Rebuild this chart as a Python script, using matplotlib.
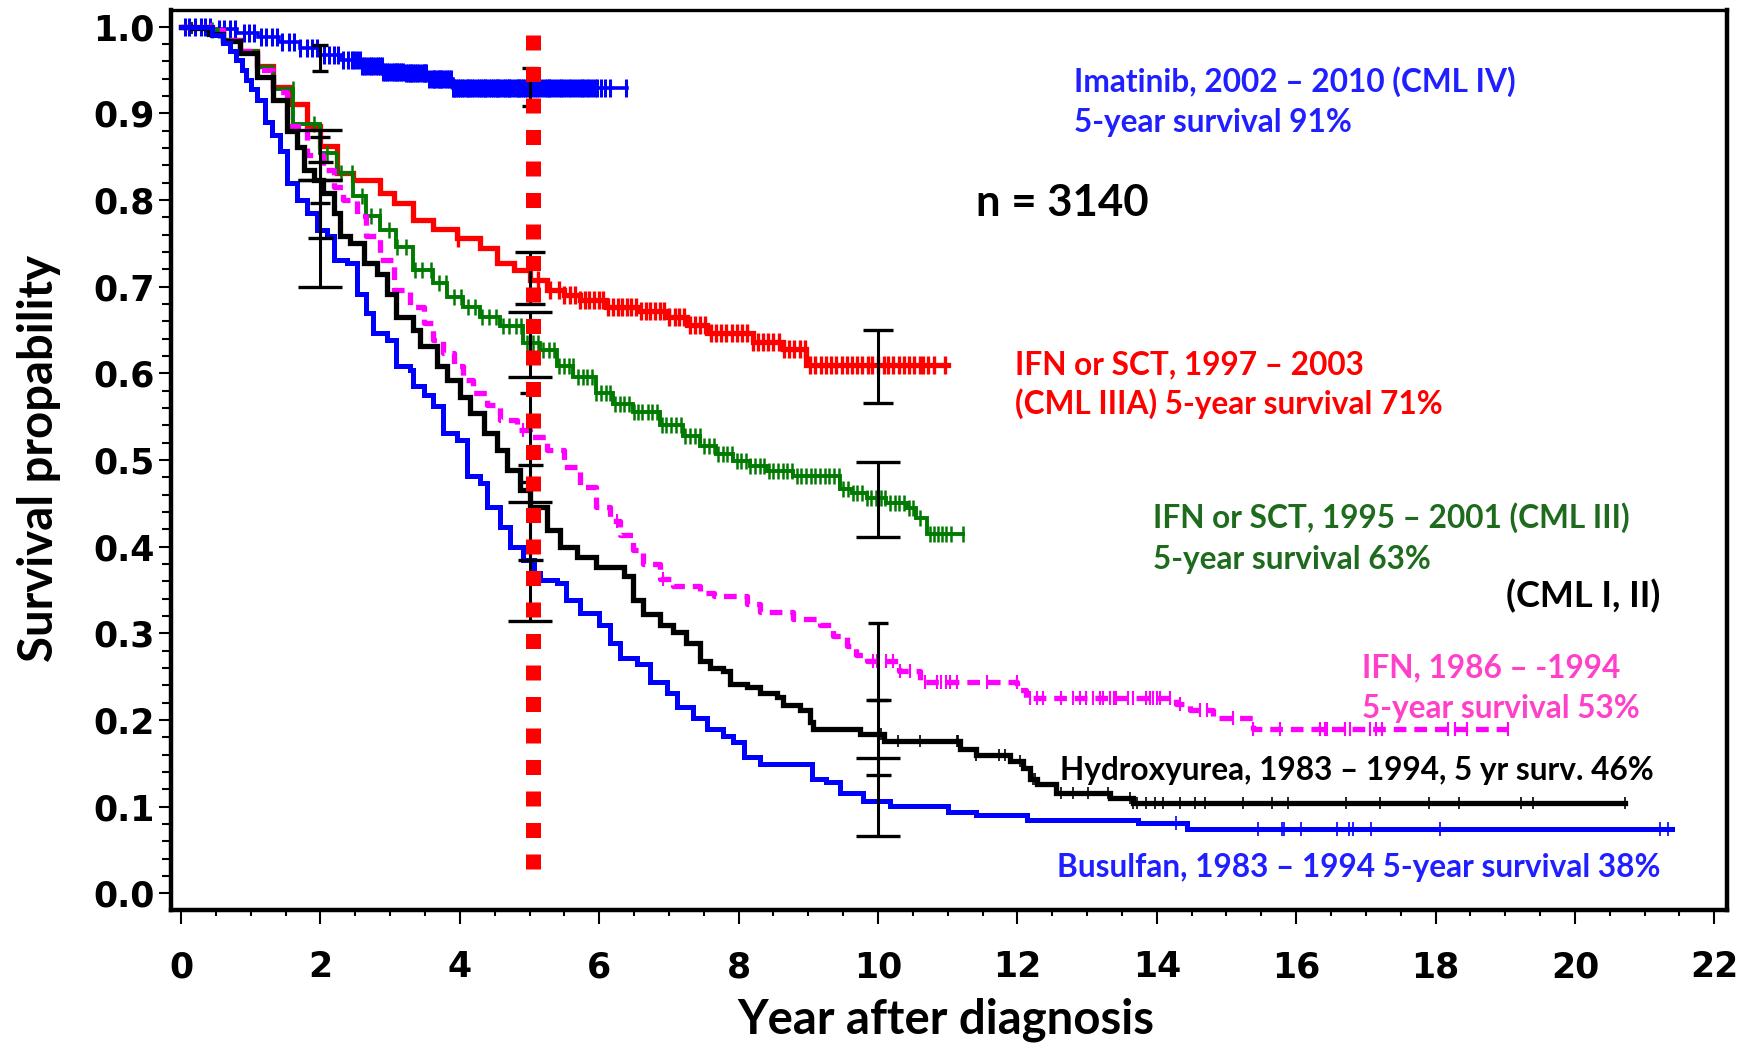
import numpy as np
import matplotlib
matplotlib.use("Agg")
import matplotlib.pyplot as plt
from matplotlib.ticker import MultipleLocator, FormatStrFormatter

# Kaplan-Meier step points (year, survival)
ima_t = [0, 0.45, 0.8, 1.1, 1.4, 1.7, 2.0, 2.3, 2.6, 2.9, 3.2, 3.55, 3.9]
ima_s = [1.0, 0.997, 0.993, 0.988, 0.982, 0.975, 0.967, 0.961, 0.955, 0.948, 0.946, 0.940, 0.929]
ima_end = 6.4
ima_cens = [0.05, 0.12, 0.2, 0.28, 0.35, 0.42, 0.55, 0.62, 0.7, 0.78, 0.9, 0.98, 1.05, 1.15,
            1.22, 1.3, 1.38, 1.45, 1.55, 1.62, 1.7, 1.8, 1.88, 1.95, 2.05, 2.12, 2.2, 2.25,
            2.32, 2.4, 2.45, 2.48, 2.52, 2.56, 2.6, 2.63, 2.65, 2.69, 2.72, 2.76, 2.8, 2.83,
            2.85, 2.88, 2.9, 2.93, 2.95, 2.98, 3.02, 3.05, 3.08, 3.1, 3.12, 3.15, 3.18, 3.22,
            3.25, 3.28, 3.3, 3.33, 3.35, 3.38, 3.42, 3.45, 3.48, 3.5, 3.52, 3.56, 3.6, 3.63,
            3.65, 3.68, 3.7, 3.73, 3.75, 3.78, 3.82, 3.85, 3.88, 3.9, 3.92, 3.95, 3.97, 4.0,
            4.03, 4.06, 4.1, 4.12, 4.15, 4.18, 4.2, 4.24, 4.27, 4.3, 4.33, 4.36, 4.38, 4.42,
            4.45, 4.48, 4.5, 4.53, 4.55, 4.58, 4.62, 4.65, 4.68, 4.7, 4.72, 4.76, 4.8, 4.83,
            4.85, 4.88, 4.9, 4.94, 4.97, 5.0, 5.05, 5.08, 5.1, 5.14, 5.18, 5.22, 5.25, 5.28,
            5.3, 5.34, 5.38, 5.42, 5.45, 5.48, 5.52, 5.56, 5.6, 5.64, 5.68, 5.72, 5.75, 5.78,
            5.82, 5.86, 5.9, 5.94, 5.97, 6.02, 6.08, 6.15, 6.38]

red_t = [0, 0.45, 0.6, 0.85, 1.09, 1.32, 1.56, 1.80, 2.0, 2.23, 2.47, 2.86, 3.05, 3.33, 3.62,
         3.96, 4.29, 4.53, 4.77, 5.01, 5.25, 5.5, 5.72, 6.1, 6.55, 6.99, 7.26, 7.54, 8.2, 8.64, 8.97]
red_s = [1.0, 0.996, 0.985, 0.972, 0.955, 0.93, 0.911, 0.885, 0.862, 0.831, 0.823, 0.808, 0.796,
         0.777, 0.766, 0.756, 0.745, 0.727, 0.719, 0.708, 0.696, 0.690, 0.684, 0.677, 0.672,
         0.665, 0.656, 0.646, 0.636, 0.628, 0.610]
red_end = 11.0
red_cens = [3.98, 5.12, 5.3, 5.42, 5.5, 5.58, 5.65, 5.72, 5.8, 5.86, 5.93, 6.0, 6.06, 6.12, 6.2,
            6.27, 6.33, 6.4, 6.46, 6.53, 6.6, 6.67, 6.73, 6.8, 6.87, 6.93, 7.0, 7.08, 7.15, 7.22,
            7.3, 7.38, 7.45, 7.52, 7.6, 7.68, 7.75, 7.82, 7.9, 7.97, 8.05, 8.12, 8.2, 8.28, 8.35,
            8.42, 8.5, 8.58, 8.65, 8.72, 8.8, 8.88, 8.95, 9.03, 9.1, 9.18, 9.25, 9.33, 9.4, 9.48,
            9.55, 9.62, 9.7, 9.77, 9.85, 9.92, 10.0, 10.08, 10.15, 10.22, 10.3, 10.38, 10.45,
            10.52, 10.6, 10.65, 10.72, 10.8, 10.96]

grn_t = [0, 0.45, 0.6, 0.85, 1.09, 1.32, 1.61, 1.99, 2.23, 2.47, 2.66, 2.86, 3.09, 3.33, 3.62,
         3.81, 4.05, 4.29, 4.58, 4.91, 5.15, 5.39, 5.63, 5.96, 6.2, 6.49, 6.87, 7.2, 7.45, 7.68,
         7.92, 8.16, 8.4, 8.78, 9.45, 9.62, 9.84, 10.12, 10.41, 10.55, 10.7]
grn_s = [1.0, 0.996, 0.985, 0.972, 0.953, 0.928, 0.888, 0.854, 0.831, 0.804, 0.781, 0.765, 0.746,
         0.719, 0.704, 0.688, 0.677, 0.665, 0.654, 0.635, 0.627, 0.608, 0.596, 0.577, 0.565,
         0.555, 0.540, 0.528, 0.516, 0.507, 0.499, 0.493, 0.487, 0.481, 0.466, 0.462, 0.456,
         0.450, 0.444, 0.433, 0.414]
grn_end = 11.22
grn_cens = [0.45, 1.6, 1.9, 2.1, 2.3, 2.45, 2.6, 2.72, 2.85, 2.98, 3.1, 3.22, 3.35, 3.45, 3.58,
            3.7, 3.8, 3.92, 4.02, 4.12, 4.22, 4.32, 4.42, 4.52, 4.62, 4.7, 4.8, 4.88, 4.96, 5.05,
            5.12, 5.2, 5.28, 5.35, 5.42, 5.5, 5.56, 5.62, 5.7, 5.76, 5.83, 5.9, 5.96, 6.02, 6.1,
            6.16, 6.23, 6.3, 6.36, 6.42, 6.5, 6.56, 6.62, 6.7, 6.76, 6.83, 6.9, 6.96, 7.03, 7.1,
            7.17, 7.23, 7.3, 7.37, 7.44, 7.5, 7.57, 7.64, 7.7, 7.77, 7.84, 7.9, 7.97, 8.04, 8.1,
            8.17, 8.24, 8.3, 8.37, 8.44, 8.5, 8.57, 8.64, 8.7, 8.77, 8.84, 8.9, 8.97, 9.04, 9.1,
            9.17, 9.24, 9.3, 9.37, 9.44, 9.5, 9.57, 9.64, 9.7, 9.77, 9.84, 9.9, 9.97, 10.04, 10.1,
            10.17, 10.24, 10.3, 10.37, 10.44, 10.5, 10.6, 10.75, 10.8, 10.86, 10.92, 10.98, 11.05,
            11.22]

ifn_t = [0, 0.43, 0.6, 0.85, 1.09, 1.32, 1.52, 1.80, 2.04, 2.19, 2.33, 2.52, 2.66, 2.86, 3.05,
         3.29, 3.48, 3.62, 3.76, 3.91, 4.05, 4.19, 4.39, 4.58, 4.82, 5.01, 5.25, 5.49, 5.72, 5.96,
         6.15, 6.3, 6.49, 6.63, 6.87, 7.06, 7.45, 7.64, 8.12, 8.3, 8.78, 9.17, 9.36, 9.55, 9.69,
         9.84, 10.3, 10.6, 12.0, 12.13, 14.28, 14.48, 14.81, 15.38]
ifn_s = [1.0, 0.996, 0.985, 0.972, 0.95, 0.925, 0.885, 0.852, 0.835, 0.815, 0.800, 0.781, 0.758,
         0.731, 0.696, 0.677, 0.658, 0.638, 0.623, 0.608, 0.592, 0.577, 0.563, 0.546, 0.535,
         0.527, 0.512, 0.492, 0.469, 0.446, 0.429, 0.413, 0.396, 0.380, 0.363, 0.355, 0.347,
         0.343, 0.334, 0.324, 0.316, 0.310, 0.297, 0.285, 0.275, 0.268, 0.256, 0.244, 0.235,
         0.225, 0.218, 0.211, 0.202, 0.189]
ifn_end = 19.04
ifn_cens = [0.43, 4.91, 6.25, 6.92, 9.93, 9.98, 10.12, 10.22, 10.31, 10.46, 10.67, 10.84, 10.91,
            10.98, 11.03, 11.13, 11.56, 11.99, 12.18, 12.28, 12.37, 12.63, 12.80, 12.90, 12.99,
            13.09, 13.18, 13.23, 13.33, 13.38, 13.42, 13.59, 13.66, 13.85, 13.90, 13.95, 14.0,
            14.05, 14.19, 14.33, 14.62, 14.72, 15.10, 15.38, 15.77, 16.34, 16.41, 16.44, 16.70,
            16.77, 17.06, 17.15, 17.23, 18.18, 18.28, 18.45, 19.04]

hyd_t = [0, 0.15, 0.4, 0.6, 0.85, 1.09, 1.32, 1.52, 1.66, 1.76, 1.90, 2.04, 2.19, 2.28, 2.42,
         2.62, 2.81, 2.95, 3.09, 3.33, 3.43, 3.67, 3.81, 4.0, 4.15, 4.34, 4.53, 4.67, 4.86, 5.01,
         5.25, 5.44, 5.68, 5.96, 6.35, 6.49, 6.63, 6.87, 7.06, 7.25, 7.45, 7.59, 7.78, 7.88, 8.12,
         8.31, 8.55, 8.64, 8.88, 9.02, 9.07, 9.74, 10.08, 11.18, 11.41, 11.89, 12.08, 12.18,
         12.28, 12.56, 13.33, 13.66]
hyd_s = [1.0, 0.998, 0.992, 0.983, 0.969, 0.942, 0.915, 0.88, 0.861, 0.835, 0.823, 0.808, 0.785,
         0.758, 0.750, 0.727, 0.715, 0.692, 0.665, 0.650, 0.631, 0.608, 0.592, 0.573, 0.554,
         0.531, 0.511, 0.488, 0.465, 0.446, 0.419, 0.400, 0.388, 0.377, 0.366, 0.338, 0.322,
         0.310, 0.301, 0.289, 0.268, 0.260, 0.256, 0.242, 0.238, 0.231, 0.227, 0.217, 0.211,
         0.198, 0.190, 0.184, 0.176, 0.167, 0.159, 0.153, 0.145, 0.132, 0.126, 0.116, 0.110, 0.104]
hyd_end = 20.72
hyd_cens = [0.15, 10.05, 10.29, 10.6, 11.13, 11.15, 11.41, 11.73, 11.82, 12.04, 12.23, 12.25,
            12.63, 12.80, 13.02, 13.30, 13.62, 13.66, 13.71, 13.85, 13.97, 14.09, 14.33, 14.55,
            14.69, 15.24, 15.65, 15.89, 16.72, 17.20, 17.90, 18.33, 19.23, 19.40, 20.72]

bus_t = [0, 0.45, 0.6, 0.7, 0.79, 0.87, 0.93, 1.0, 1.09, 1.2, 1.3, 1.42, 1.52, 1.66, 1.80, 1.95,
         2.09, 2.19, 2.38, 2.52, 2.66, 2.76, 2.95, 3.09, 3.29, 3.33, 3.48, 3.62, 3.76, 3.96, 4.10,
         4.29, 4.39, 4.58, 4.72, 4.91, 5.06, 5.15, 5.39, 5.53, 5.72, 6.0, 6.15, 6.3, 6.54, 6.73,
         6.97, 7.11, 7.35, 7.54, 7.78, 7.92, 8.07, 8.31, 9.05, 9.26, 9.45, 9.79, 10.17, 11.0,
         11.4, 12.14, 13.73, 14.43]
bus_s = [1.0, 0.99, 0.981, 0.972, 0.961, 0.95, 0.938, 0.928, 0.915, 0.89, 0.875, 0.856, 0.819,
         0.800, 0.785, 0.765, 0.758, 0.731, 0.727, 0.692, 0.669, 0.646, 0.638, 0.608, 0.604,
         0.585, 0.575, 0.562, 0.531, 0.523, 0.481, 0.473, 0.446, 0.423, 0.400, 0.385, 0.369,
         0.361, 0.358, 0.338, 0.323, 0.31, 0.289, 0.272, 0.264, 0.244, 0.231, 0.215, 0.202,
         0.190, 0.182, 0.174, 0.157, 0.149, 0.132, 0.128, 0.116, 0.106, 0.101, 0.094, 0.090,
         0.085, 0.081, 0.074]
bus_end = 21.4
bus_cens = [14.28, 15.45, 15.79, 15.83, 16.07, 16.59, 16.76, 16.82, 17.07, 18.06, 21.22, 21.33]

# confidence intervals drawn as black bars (year, lower, upper)
ima_ci_t, ima_ci_lo, ima_ci_hi = [2, 5], [0.949, 0.908], [0.979, 0.952]
red_ci_t, red_ci_lo, red_ci_hi = [5, 10], [0.680, 0.566], [0.740, 0.650]
grn_ci_t, grn_ci_lo, grn_ci_hi = [2, 5, 10], [0.823, 0.596, 0.411], [0.881, 0.671, 0.498]
ifn_ci_t, ifn_ci_lo, ifn_ci_hi = [2, 5, 10], [0.796, 0.475, 0.223], [0.873, 0.577, 0.312]
hyd_ci_t, hyd_ci_lo, hyd_ci_hi = [2, 5, 10], [0.756, 0.385, 0.137], [0.844, 0.494, 0.223]
bus_ci_t, bus_ci_lo, bus_ci_hi = [2, 5, 10], [0.700, 0.314, 0.066], [0.823, 0.452, 0.156]

LABEL_FONT = ['Lato', 'DejaVu Sans']


def km(ax, t, s, end, cens, color, lw, ms, mew, ls='-'):
    t = np.asarray(t, dtype=float)
    s = np.asarray(s, dtype=float)
    ax.step(np.append(t, end), np.append(s, s[-1]), where='post', color=color, lw=lw,
            linestyle=ls, solid_joinstyle='miter', zorder=3)
    c = np.asarray(cens, dtype=float)
    idx = np.searchsorted(t, c, side='right') - 1
    ax.plot(c, s[idx], ls='none', marker='|', ms=ms, mew=mew, color=color, zorder=3)


def ci(ax, t, lo, hi, cap):
    t = np.asarray(t, dtype=float)
    lo = np.asarray(lo)
    hi = np.asarray(hi)
    mid = (lo + hi) / 2
    ax.errorbar(t, mid, yerr=[mid - lo, hi - mid], fmt='none', ecolor='black',
                elinewidth=2.2, capsize=cap, capthick=2.4, zorder=4)


fig = plt.figure(figsize=(17.48, 10.49), dpi=100)
ax = fig.add_axes([0.0977, 0.1325, 0.8902, 0.8580])

km(ax, ima_t, ima_s, ima_end, ima_cens, '#0000ff', 2.6, 13, 2.2)
km(ax, red_t, red_s, red_end, red_cens, '#ff0000', 3.8, 13, 2.4)
km(ax, grn_t, grn_s, grn_end, grn_cens, '#007a00', 2.8, 12, 1.8)
km(ax, ifn_t, ifn_s, ifn_end, ifn_cens, '#ff00ff', 3.8, 10, 1.5, ls=(0, (2.4, 1.5)))
km(ax, hyd_t, hyd_s, hyd_end, hyd_cens, '#000000', 3.8, 8.5, 1.2)
km(ax, bus_t, bus_s, bus_end, bus_cens, '#0000ff', 3.6, 9.5, 1.2)

ci(ax, ima_ci_t, ima_ci_lo, ima_ci_hi, 6)
ci(ax, red_ci_t, red_ci_lo, red_ci_hi, 11)
ci(ax, grn_ci_t, grn_ci_lo, grn_ci_hi, 15.5)
ci(ax, ifn_ci_t, ifn_ci_lo, ifn_ci_hi, 7)
ci(ax, hyd_ci_t, hyd_ci_lo, hyd_ci_hi, 9)
ci(ax, bus_ci_t, bus_ci_lo, bus_ci_hi, 15.5)

# 5-year marker
ax.plot([5.05, 5.05], [0.99, 0.012], color='#ff0000', lw=10.8,
        linestyle=(0, (1, 1.1)), dash_capstyle='butt', zorder=5)

ax.set_xlim(-0.148, 22.18)
ax.set_ylim(-0.0193, 1.0192)
ax.xaxis.set_major_locator(MultipleLocator(2))
ax.xaxis.set_minor_locator(MultipleLocator(0.5))
ax.yaxis.set_major_locator(MultipleLocator(0.1))
ax.yaxis.set_minor_locator(MultipleLocator(0.02))
ax.yaxis.set_major_formatter(FormatStrFormatter('%.1f'))
ax.tick_params(axis='x', which='major', direction='out', length=10, width=1.5, pad=19)
ax.tick_params(axis='x', which='minor', direction='out', length=4.5, width=1.5)
ax.tick_params(axis='y', which='major', direction='out', length=8.6, width=1.5, pad=3)
ax.tick_params(axis='y', which='minor', direction='out', length=6.5, width=1.5)
for lbl in ax.get_xticklabels() + ax.get_yticklabels():
    lbl.set_fontfamily('DejaVu Sans')
    lbl.set_fontweight('bold')
    lbl.set_fontsize(25)

for side in ['left', 'bottom', 'right']:
    ax.spines[side].set_linewidth(3.2)
ax.spines['top'].set_linewidth(2.4)

fig.text(946 / 1748, 1 - 1020 / 1049, 'Year after diagnosis', ha='center', va='center',
         fontsize=34, fontweight='bold', family=LABEL_FONT)
fig.text(39 / 1748, 1 - 459 / 1049, 'Survival propability', ha='center', va='center',
         rotation=90, fontsize=34, fontweight='bold', family=LABEL_FONT)

notes = [
    (12.81, 0.937, 'Imatinib, 2002 – 2010 (CML IV)', '#1f1fff', 'left', 22.8),
    (12.81, 0.889, '5-year survival 91%', '#1f1fff', 'left', 22.8),
    (11.41, 0.797, 'n = 3140', '#000000', 'left', 31.5),
    (11.97, 0.610, 'IFN or SCT, 1997 – 2003', '#ff0000', 'left', 22.8),
    (11.97, 0.565, '(CML IIIA) 5-year survival 71%', '#ff0000', 'left', 22.8),
    (13.94, 0.433, 'IFN or SCT, 1995 – 2001 (CML III)', '#1e6b1e', 'left', 22.8),
    (13.94, 0.385, '5-year survival 63%', '#1e6b1e', 'left', 22.8),
    (21.23, 0.343, '(CML I, II)', '#000000', 'right', 26),
    (16.95, 0.260, 'IFN, 1986 – -1994', '#ff40c8', 'left', 22.8),
    (16.95, 0.213, '5-year survival 53%', '#ff40c8', 'left', 22.8),
    (12.61, 0.142, 'Hydroxyurea, 1983 – 1994, 5 yr surv. 46%', '#000000', 'left', 22.8),
    (12.57, 0.030, 'Busulfan, 1983 – 1994 5-year survival 38%', '#1f1fff', 'left', 22.8),
]
for x, y, s, c, ha, fs in notes:
    ax.text(x, y, s, color=c, ha=ha, va='center', fontsize=fs, fontweight='bold',
            family=LABEL_FONT, zorder=6)

fig.savefig('out.png', dpi=100)
